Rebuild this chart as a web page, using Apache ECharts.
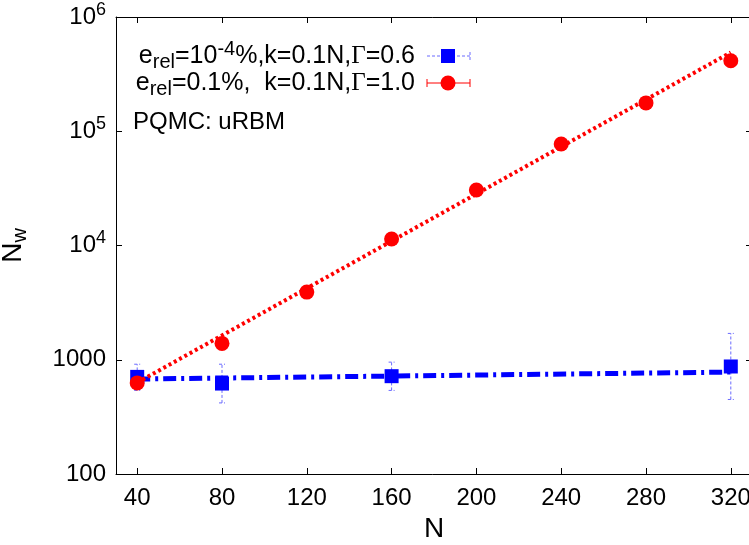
<!DOCTYPE html>
<html>
<head>
<meta charset="utf-8">
<script src="https://cdn.jsdelivr.net/npm/echarts@6/dist/echarts.min.js"></script>
<style>
  html, body { margin: 0; padding: 0; background: #fff; }
  #main { width: 749px; height: 545px; }
</style>
</head>
<body>
<div id="main"></div>
<script>
  // x tick values (N)
  const nTicks = [40, 80, 120, 160, 200, 240, 280, 320];

  // e_rel=0.1%, Gamma=1.0 (red circles)
  const redN = [40, 80, 120, 160, 200, 240, 280, 320];
  const redVals = [627, 1390, 3910, 11400, 30600, 77400, 177000, 414000];
  // red dotted fit, end points
  const redFitN = [40, 320];
  const redFitVals = [631, 490000];

  // e_rel=1e-4 %, Gamma=0.6 (blue squares) with error bars
  const blueN = [40, 80, 160, 320];
  const blueVals = [708, 619, 718, 873];
  const blueLow = [539, 419, 539, 449];
  const blueHigh = [914, 914, 953, 1700];
  // blue dash-dot fit, end points
  const blueFitN = [40, 320];
  const blueFitVals = [678, 780];

  const FONT = 'Liberation Sans';
  const chart = echarts.init(document.getElementById('main'));

  const pairs = (xs, ys) => xs.map((x, i) => [x, ys[i]]);

  chart.setOption({
    animation: false,
    backgroundColor: '#fff',
    grid: { left: 116, top: 17, width: 636, height: 457, outerBoundsMode: 'none' },
    xAxis: [
      {
        type: 'value', min: 30, max: 330,
        axisLine: { lineStyle: { color: '#000', width: 1 } },
        axisTick: { inside: true, length: 6, lineStyle: { color: '#000' }, customValues: nTicks },
        axisLabel: { customValues: nTicks, fontSize: 24, fontFamily: FONT, color: '#000', margin: 12 },
        splitLine: { show: false },
        name: 'N', nameLocation: 'middle', nameGap: 36,
        nameTextStyle: { fontSize: 28, fontFamily: FONT, color: '#000' }
      },
      {
        type: 'value', min: 30, max: 330, position: 'top',
        axisLine: { lineStyle: { color: '#000', width: 1 } },
        axisTick: { inside: true, length: 6, lineStyle: { color: '#000' }, customValues: nTicks },
        axisLabel: { show: false },
        splitLine: { show: false }
      }
    ],
    yAxis: [
      {
        type: 'log', logBase: 10, min: 100, max: 1000000,
        axisLine: { show: true, lineStyle: { color: '#000', width: 1 } },
        axisTick: { show: true, inside: true, length: 6, lineStyle: { color: '#000' } },
        minorTick: { show: false },
        splitLine: { show: false },
        axisLabel: {
          fontSize: 24, fontFamily: FONT, color: '#000', margin: 10,
          formatter: function (v) {
            if (v >= 10000) return '10{sup|' + Math.round(Math.log10(v)) + '}';
            return String(Math.round(v));
          },
          rich: { sup: { fontSize: 18, fontFamily: FONT, color: '#000', padding: [0, 0, 14, 0] } }
        },
        name: '{n|N}{s|w}', nameLocation: 'middle', nameGap: 86,
        nameTextStyle: {
          fontSize: 28, fontFamily: FONT, color: '#000',
          rich: {
            n: { fontSize: 28, fontFamily: FONT, color: '#000' },
            s: { fontSize: 20, fontFamily: FONT, color: '#000', padding: [14, 0, 0, 0] }
          }
        }
      },
      {
        type: 'log', logBase: 10, min: 100, max: 1000000, position: 'right',
        axisLine: { show: true, lineStyle: { color: '#000', width: 1 } },
        axisTick: { show: true, inside: true, length: 6, lineStyle: { color: '#000' } },
        axisLabel: { show: false },
        splitLine: { show: false }
      }
    ],
    series: [
      {
        type: 'custom',
        z: 2,
        data: blueN.map((n, i) => [n, blueLow[i], blueHigh[i]]),
        encode: { x: 0, y: [1, 2] },
        renderItem: function (params, api) {
          const lo = api.coord([api.value(0), api.value(1)]);
          const hi = api.coord([api.value(0), api.value(2)]);
          const st = { stroke: '#6a6aff', lineWidth: 1, lineDash: [3, 2] };
          return {
            type: 'group',
            children: [
              { type: 'line', shape: { x1: lo[0], y1: lo[1], x2: hi[0], y2: hi[1] }, style: st },
              { type: 'line', shape: { x1: lo[0] - 3, y1: lo[1], x2: lo[0] + 3, y2: lo[1] }, style: st },
              { type: 'line', shape: { x1: hi[0] - 3, y1: hi[1], x2: hi[0] + 3, y2: hi[1] }, style: st }
            ]
          };
        }
      },
      {
        type: 'line', z: 3, symbol: 'none', silent: true,
        data: pairs(blueFitN, blueFitVals),
        lineStyle: { color: '#0000ff', width: 5, type: [13, 5, 3, 5] }
      },
      {
        type: 'scatter', z: 4, symbol: 'rect', symbolSize: 14,
        data: pairs(blueN, blueVals),
        itemStyle: { color: '#0000ff', opacity: 1 }
      },
      {
        type: 'line', z: 5, symbol: 'none', silent: true,
        data: pairs(redFitN, redFitVals),
        lineStyle: { color: '#ff0000', width: 4, type: [3, 3] }
      },
      {
        type: 'scatter', z: 6, symbol: 'circle', symbolSize: 15,
        data: pairs(redN, redVals),
        itemStyle: { color: '#ff0000', opacity: 1 }
      }
    ],
    graphic: [
      {
        type: 'text', x: 415, y: 56, z: 10,
        style: {
          text: '{m|e}{sub|rel}{m|=10}{sup|-4}{m|%,k=0.1N,}{g|Γ}{m|=0.6}',
          align: 'right', verticalAlign: 'middle',
          rich: {
            m: { fontSize: 25, fontFamily: FONT, fill: '#000' },
            g: { fontSize: 25, fontFamily: 'Liberation Serif', fill: '#000' },
            sub: { fontSize: 20, fontFamily: FONT, fill: '#000', padding: [13, 0, 0, 0] },
            sup: { fontSize: 20, fontFamily: FONT, fill: '#000', padding: [0, 0, 13, 0] }
          }
        }
      },
      {
        type: 'text', x: 415, y: 83, z: 10,
        style: {
          text: '{m|e}{sub|rel}{m|=0.1%,  k=0.1N,}{g|Γ}{m|=1.0}',
          align: 'right', verticalAlign: 'middle',
          rich: {
            m: { fontSize: 25, fontFamily: FONT, fill: '#000' },
            g: { fontSize: 25, fontFamily: 'Liberation Serif', fill: '#000' },
            sub: { fontSize: 20, fontFamily: FONT, fill: '#000', padding: [13, 0, 0, 0] }
          }
        }
      },
      {
        type: 'text', x: 133, y: 122, z: 10,
        style: { text: 'PQMC: uRBM', fontSize: 24, fontFamily: FONT, fill: '#000', align: 'left', verticalAlign: 'middle' }
      },
      // legend sample: blue
      { type: 'line', z: 10, shape: { x1: 427, y1: 56, x2: 470, y2: 56 }, style: { stroke: '#6a6aff', lineWidth: 1, lineDash: [3, 2] } },
      { type: 'line', z: 10, shape: { x1: 470, y1: 52, x2: 470, y2: 60 }, style: { stroke: '#6a6aff', lineWidth: 1, lineDash: [3, 2] } },
      { type: 'rect', z: 11, shape: { x: 441, y: 49, width: 14, height: 14 }, style: { fill: '#0000ff' } },
      // legend sample: red
      { type: 'line', z: 10, shape: { x1: 427, y1: 83, x2: 470, y2: 83 }, style: { stroke: '#ff0000', lineWidth: 1 } },
      { type: 'line', z: 10, shape: { x1: 427, y1: 79, x2: 427, y2: 87 }, style: { stroke: '#ff0000', lineWidth: 1 } },
      { type: 'line', z: 10, shape: { x1: 470, y1: 79, x2: 470, y2: 87 }, style: { stroke: '#ff0000', lineWidth: 1 } },
      { type: 'circle', z: 11, shape: { cx: 448, cy: 83, r: 7.5 }, style: { fill: '#ff0000' } }
    ]
  });
</script>
</body>
</html>
